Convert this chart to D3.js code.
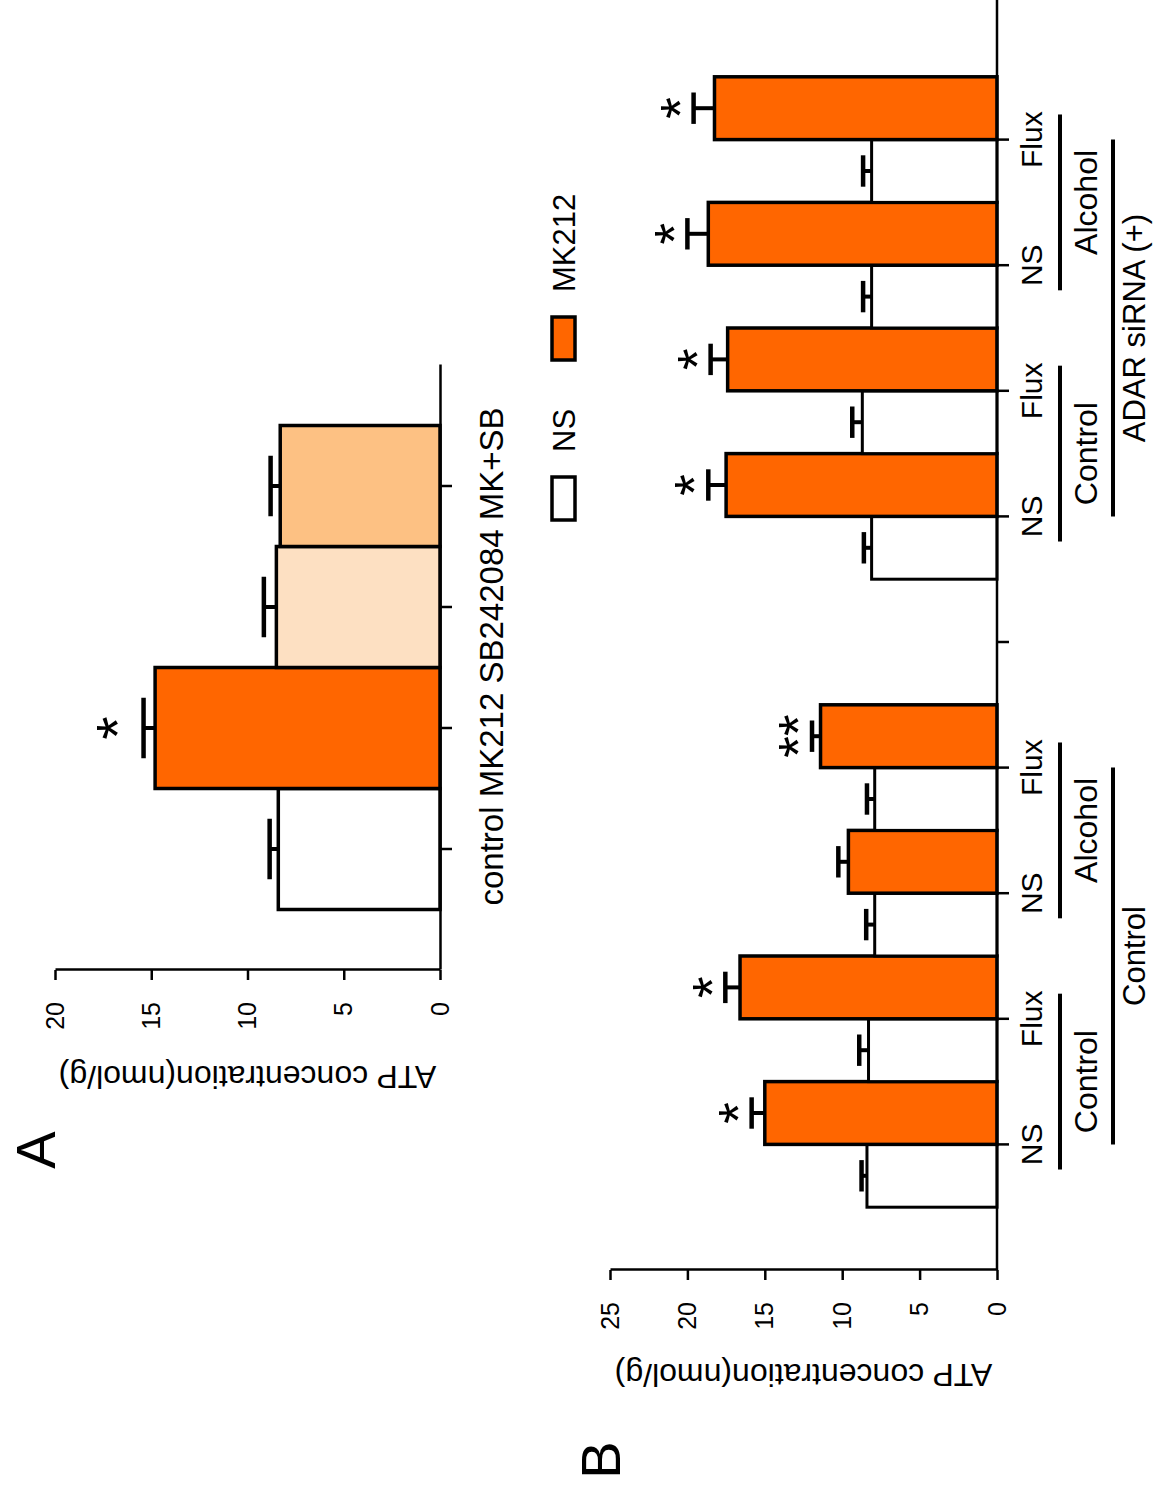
<!DOCTYPE html>
<html>
<head>
<meta charset="utf-8">
<script src="https://cdn.jsdelivr.net/npm/d3@7"></script>
<style>
  body { margin: 0; background: #fff; }
  svg text { font-family: "Liberation Sans", Arial, Helvetica, sans-serif; fill: #000; }
</style>
</head>
<body>
<div id="figure"></div>
<script>
// Panel A data
const catsA = ["control", "MK212", "SB242084", "MK+SB"];
const meanA = [8.4, 14.8, 8.5, 8.3];
const semA = [0.45, 0.6, 0.65, 0.5];
const sigA = ["", "*", "", ""];

// Panel B data (each pair = NS bar + MK212 bar)
const sectionsB = ["Control", "ADAR siRNA (+)"];
const conditionsB = ["Control", "Control", "Alcohol", "Alcohol"];
const treatmentsB = ["NS", "Flux", "NS", "Flux"];
const nsMeanB = [8.4, 8.3, 7.9, 7.9, 8.1, 8.7, 8.1, 8.1];
const nsSemB = [0.35, 0.6, 0.55, 0.5, 0.5, 0.65, 0.55, 0.55];
const mkMeanB = [15.0, 16.6, 9.6, 11.4, 17.5, 17.4, 18.65, 18.25];
const mkSemB = [0.85, 0.95, 0.65, 0.55, 1.15, 1.1, 1.35, 1.35];
const sigB = ["*", "*", "", "**", "*", "*", "*", "*"];

const ticksA = [0, 5, 10, 15, 20];
const ticksB = [0, 5, 10, 15, 20, 25];

const series = ["NS", "MK212"];

// the whole figure is drawn upright, then turned a quarter turn
const W = 1155, H = 1492;
const svg = d3.select("#figure").append("svg")
    .attr("width", W)
    .attr("height", H);
const fig = svg.append("g")
    .attr("transform", "translate(0," + H + ") rotate(-90)");

const orange = "#ff6600";
const colorA = d3.scaleOrdinal()
    .domain(catsA)
    .range(["#ffffff", orange, "#fde0c2", "#fdc183"]);
const colorB = d3.scaleOrdinal().domain(series).range(["#ffffff", orange]);

function styleAxis(g, fs) {
    g.select(".domain").attr("stroke", "#000").attr("stroke-width", 2.5);
    g.selectAll(".tick line").attr("stroke", "#000").attr("stroke-width", 2.5);
    g.selectAll(".tick text").style("font-size", fs + "px").attr("fill", "#000");
}

function errorBar(g, cx, w, y0, y1) {
    g.append("line").attr("x1", cx).attr("x2", cx).attr("y1", y0).attr("y2", y1)
        .attr("stroke", "#000").attr("stroke-width", 4);
    g.append("line").attr("x1", cx - w / 2).attr("x2", cx + w / 2).attr("y1", y1).attr("y2", y1)
        .attr("stroke", "#000").attr("stroke-width", 4.5);
}

// star text: center of glyph sits ~0.575em above baseline
function star(g, cx, cy, txt, fs) {
    g.append("text")
        .attr("x", cx)
        .attr("y", cy + 0.575 * fs)
        .attr("text-anchor", "middle")
        .style("font-size", fs + "px")
        .text(txt);
}

// ---------------- Panel A ----------------
let A = fig.append("g");

let xA = d3.scaleBand()
    .domain(catsA)
    .range([522, 1127])
    .paddingInner(0)
    .paddingOuter(0.5);
let yA = d3.scaleLinear()
    .domain([0, 20])
    .range([440, 55]);

A.selectAll("rect.bar")
    .data(catsA)
    .enter().append("rect")
    .attr("class", "bar")
    .attr("x", d => xA(d))
    .attr("width", xA.bandwidth())
    .attr("y", (d, i) => yA(meanA[i]))
    .attr("height", (d, i) => yA(0) - yA(meanA[i]))
    .attr("fill", d => colorA(d))
    .attr("stroke", "#000")
    .attr("stroke-width", 3.5);

catsA.forEach(function (d, i) {
    let cx = xA(d) + xA.bandwidth() / 2;
    errorBar(A, cx, xA.bandwidth() / 2, yA(meanA[i]), yA(meanA[i] + semA[i]));
    if (sigA[i]) star(A, cx, yA(meanA[i] + semA[i]) - 40, sigA[i], 60);
});

let axAy = A.append("g")
    .attr("transform", "translate(522,0)")
    .call(d3.axisLeft(yA).tickValues(ticksA).tickSize(10).tickSizeOuter(0).tickPadding(22));
styleAxis(axAy, 25);

let axAx = A.append("g")
    .attr("transform", "translate(0,440)")
    .call(d3.axisBottom(xA).tickSize(12).tickSizeOuter(0).tickFormat(""));
styleAxis(axAx, 25);

// category names written as one running line under the axis
A.append("text")
    .attr("x", xA(catsA[0]) + 4)
    .attr("y", 503)
    .style("font-size", "33px")
    .text(catsA.join(" "));

A.append("text")
    .attr("transform", "translate(415," + yA(10) + ") rotate(-90)")
    .attr("text-anchor", "middle")
    .attr("dy", "0.35em")
    .style("font-size", "32px")
    .text("ATP concentration(nmol/g)");

A.append("text")
    .attr("x", 342)
    .attr("y", 35)
    .attr("dy", "0.36em")
    .attr("text-anchor", "middle")
    .style("font-size", "56px")
    .text("A");

// legend
let legend = fig.append("g");
let legX = d3.scalePoint().domain(series).range([972, 1132]);
series.forEach(function (s) {
    legend.append("rect")
        .attr("x", legX(s))
        .attr("y", 552)
        .attr("width", 43)
        .attr("height", 23)
        .attr("fill", colorB(s))
        .attr("stroke", "#000")
        .attr("stroke-width", 3.5);
    legend.append("text")
        .attr("x", legX(s) + 68)
        .attr("y", 575)
        .style("font-size", "31px")
        .text(s);
});

// ---------------- Panel B ----------------
let B = fig.append("g");

// slot keys: 4 pairs per section, an empty slot between sections
let pairKeys = [];
let slots = [];
sectionsB.forEach(function (sec, si) {
    if (si > 0) slots.push("gap" + si);
    treatmentsB.forEach(function (t, ti) {
        let key = sec + "|" + conditionsB[ti] + "|" + t;
        pairKeys.push(key);
        slots.push(key);
    });
});

let xB = d3.scaleBand()
    .domain(slots)
    .range([222, 1478])
    .paddingInner(0)
    .paddingOuter(0.5);
let yB = d3.scaleLinear()
    .domain([0, 25])
    .range([997, 610]);
let bw = xB.bandwidth() / 2;

pairKeys.forEach(function (key, i) {
    let x0 = xB(key);
    let vals = [nsMeanB[i], mkMeanB[i]];
    let sems = [nsSemB[i], mkSemB[i]];
    series.forEach(function (s, j) {
        let x = x0 + j * bw;
        B.append("rect")
            .attr("x", x)
            .attr("width", bw)
            .attr("y", yB(vals[j]))
            .attr("height", yB(0) - yB(vals[j]))
            .attr("fill", colorB(s))
            .attr("stroke", "#000")
            .attr("stroke-width", j === 0 ? 3 : 3.5);
    });
    series.forEach(function (s, j) {
        let cx = x0 + j * bw + bw / 2;
        errorBar(B, cx, bw / 2, yB(vals[j]), yB(vals[j] + sems[j]));
    });
    if (sigB[i]) star(B, x0 + 1.5 * bw, yB(mkMeanB[i] + mkSemB[i]) - 27, sigB[i], 56);
});

let axBy = B.append("g")
    .attr("transform", "translate(222,0)")
    .call(d3.axisLeft(yB).tickValues(ticksB).tickSize(10).tickSizeOuter(0).tickPadding(22));
styleAxis(axBy, 25);

let axBx = B.append("g")
    .attr("transform", "translate(0,997)")
    .call(d3.axisBottom(xB).tickSize(12).tickSizeOuter(0).tickFormat(""));
styleAxis(axBx, 25);
axBx.select(".domain").attr("d", "M222,0H1500");

// treatment labels
pairKeys.forEach(function (key, i) {
    B.append("text")
        .attr("x", xB(key) + xB.bandwidth() / 2)
        .attr("y", 1042)
        .attr("text-anchor", "middle")
        .style("font-size", "30px")
        .text(treatmentsB[i % treatmentsB.length]);
});

// condition brackets (two pairs each) and section brackets
let step = xB.step();
sectionsB.forEach(function (sec, si) {
    let keys = pairKeys.filter(k => k.split("|")[0] === sec);
    d3.groups(keys, k => k.split("|")[1]).forEach(function (grp) {
        let c0 = xB(grp[1][0]) + step / 2;
        let c1 = xB(grp[1][grp[1].length - 1]) + step / 2;
        B.append("line")
            .attr("x1", c0 - 0.2 * step).attr("x2", c1 + 0.2 * step)
            .attr("y1", 1060).attr("y2", 1060)
            .attr("stroke", "#000").attr("stroke-width", 4);
        B.append("text")
            .attr("x", (c0 + c1) / 2)
            .attr("y", 1097)
            .attr("text-anchor", "middle")
            .style("font-size", "32px")
            .text(grp[0]);
    });
    let s0 = xB(keys[0]) + step / 2;
    let s1 = xB(keys[keys.length - 1]) + step / 2;
    B.append("line")
        .attr("x1", s0).attr("x2", s1)
        .attr("y1", 1113).attr("y2", 1113)
        .attr("stroke", "#000").attr("stroke-width", 4);
    B.append("text")
        .attr("x", (s0 + s1) / 2)
        .attr("y", 1145)
        .attr("text-anchor", "middle")
        .style("font-size", "31px")
        .text(sec);
});

B.append("text")
    .attr("transform", "translate(117," + yB(12.5) + ") rotate(-90)")
    .attr("text-anchor", "middle")
    .attr("dy", "0.35em")
    .style("font-size", "32px")
    .text("ATP concentration(nmol/g)");

B.append("text")
    .attr("x", 32)
    .attr("y", 600)
    .attr("dy", "0.36em")
    .attr("text-anchor", "middle")
    .style("font-size", "56px")
    .text("B");
</script>
</body>
</html>
